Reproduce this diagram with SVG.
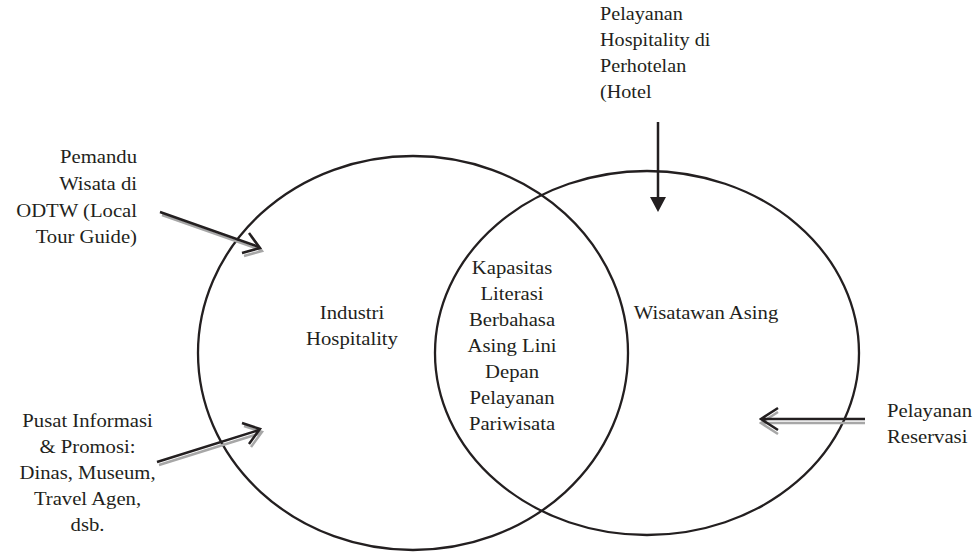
<svg xmlns="http://www.w3.org/2000/svg" xmlns:xlink="http://www.w3.org/1999/xlink" width="975" height="552" viewBox="0 0 975 552">
<style>
.bg{fill:#ffffff}
.circle{fill:none;stroke:#231f20;stroke-width:2.3}
.lbl{font-family:"Liberation Serif","Times New Roman",serif;font-size:18px;fill:#231f20}
.shadow{fill:none;stroke:#a7a7a7;stroke-width:2.5;stroke-linejoin:miter}
.main{fill:none;stroke:#231f20;stroke-width:2.5;stroke-linejoin:miter}
.solid{stroke:#231f20;stroke-width:2.5}
.head{fill:#231f20}
</style>
<defs>
<path id="a1" d="M160,212 L259,247 M242,253 L260,248 L249,233"/>
<path id="a2" d="M157,462 L259,430 M249,444 L260,429 L242,423"/>
<path id="a3" d="M865,419 L762,419 M778,408 L761,419 L778,430"/>
</defs>
<rect class="bg" x="0" y="0" width="975" height="552"/>

<g id="industri-hospitality">
<ellipse class="circle" cx="413" cy="353" rx="215" ry="197"/>
<g transform="translate(352,0) scale(1.15,1)"><text class="lbl" text-anchor="middle"><tspan x="0" y="319">Industri</tspan><tspan x="0" y="345">Hospitality</tspan></text></g>
</g>

<g id="wisatawan-asing">
<ellipse class="circle" cx="647" cy="353" rx="212" ry="182"/>
<g transform="translate(706,0) scale(1.15,1)"><text class="lbl" text-anchor="middle" x="0" y="319">Wisatawan Asing</text></g>
</g>

<g id="kapasitas">
<g transform="translate(512,0) scale(1.15,1)"><text class="lbl" text-anchor="middle"><tspan x="0" y="274">Kapasitas</tspan><tspan x="0" y="300">Literasi</tspan><tspan x="0" y="326">Berbahasa</tspan><tspan x="0" y="352">Asing Lini</tspan><tspan x="0" y="378">Depan</tspan><tspan x="0" y="404">Pelayanan</tspan><tspan x="0" y="430">Pariwisata</tspan></text></g>
</g>

<g id="pemandu">
<g transform="translate(137,0) scale(1.15,1)"><text class="lbl" text-anchor="end"><tspan x="0" y="163">Pemandu</tspan><tspan x="0" y="190">Wisata di</tspan><tspan x="0" y="217">ODTW (Local</tspan><tspan x="0" y="243">Tour Guide)</tspan></text></g>
</g>

<g id="pusat-informasi">
<g transform="translate(87.5,0) scale(1.15,1)"><text class="lbl" text-anchor="middle"><tspan x="0" y="427">Pusat Informasi</tspan><tspan x="0" y="453">&amp; Promosi:</tspan><tspan x="0" y="479">Dinas, Museum,</tspan><tspan x="0" y="505">Travel Agen,</tspan><tspan x="0" y="531">dsb.</tspan></text></g>
</g>

<g id="hotel">
<g transform="translate(600,0) scale(1.12,1)"><text class="lbl" text-anchor="start"><tspan x="0" y="20">Pelayanan</tspan><tspan x="0" y="46">Hospitality di</tspan><tspan x="0" y="72">Perhotelan</tspan><tspan x="0" y="98">(Hotel</tspan></text></g>
</g>

<g id="reservasi">
<g transform="translate(887,0) scale(1.15,1)"><text class="lbl" text-anchor="start"><tspan x="0" y="417">Pelayanan</tspan><tspan x="0" y="443">Reservasi</tspan></text></g>
</g>

<g id="connectors">
<use xlink:href="#a1" href="#a1" class="shadow" transform="translate(2,3)"/>
<use xlink:href="#a1" href="#a1" class="main"/>
<use xlink:href="#a2" href="#a2" class="shadow" transform="translate(2,3)"/>
<use xlink:href="#a2" href="#a2" class="main"/>
<use xlink:href="#a3" href="#a3" class="shadow" transform="translate(0,4)"/>
<use xlink:href="#a3" href="#a3" class="main"/>
<line class="solid" x1="658" y1="122" x2="658" y2="199"/>
<polygon class="head" points="650,197 666,197 658,212"/>
</g>
</svg>
